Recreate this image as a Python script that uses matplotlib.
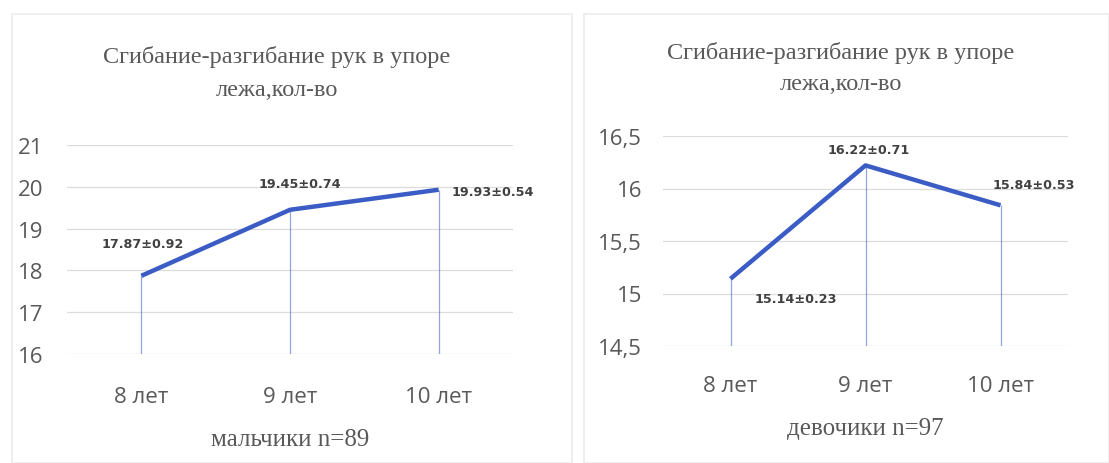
import matplotlib.pyplot as plt
from matplotlib.patches import Rectangle

ages = ['8 лет', '9 лет', '10 лет']

boys_mean = [17.87, 19.45, 19.93]
boys_sd = [0.92, 0.74, 0.54]
girls_mean = [15.14, 16.22, 15.84]
girls_sd = [0.23, 0.71, 0.53]

boys_ticks = [16, 17, 18, 19, 20, 21]
girls_ticks = [14.5, 15, 15.5, 16, 16.5]

title_lines = ['Сгибание-разгибание рук в упоре', 'лежа,кол-во']
line_color = '#3a5cc4'
grey = '#595959'

fig = plt.figure(figsize=(11.09, 4.64), dpi=100)

# light frames of the two chart panels
for x0, w in [(12, 560), (584, 525)]:
    fig.patches.append(Rectangle((x0 / 1109, 0), w / 1109, 1 - 15 / 464,
                                 transform=fig.transFigure, fill=False,
                                 edgecolor='#ececec', lw=1.2))


def panel(rect, means, sds, ticks, tick_fmt, xlabel, offsets, title_x,
          title_y, ypad, xpad):
    ax = fig.add_axes(rect)
    x = range(len(ages))
    ax.set_xlim(-0.5, len(ages) - 0.5)
    ax.set_ylim(ticks[0], ticks[-1])
    ax.set_yticks(ticks)
    ax.set_yticklabels([tick_fmt(t) for t in ticks])
    ax.set_xticks(list(x))
    ax.set_xticklabels(ages)
    ax.grid(axis='y', color='#dcdcdc', lw=0.9)
    ax.set_axisbelow(True)
    for s in ax.spines.values():
        s.set_visible(False)
    ax.tick_params(length=0, labelsize=16, labelcolor=grey)
    ax.tick_params(axis='y', pad=ypad)
    ax.tick_params(axis='x', pad=xpad)
    for lab in ax.get_xticklabels() + ax.get_yticklabels():
        lab.set_family('Open Sans')

    # drop lines from each value down to the axis floor
    ax.vlines(list(x), ticks[0], means, color=line_color, lw=0.9, alpha=0.55)
    ax.plot(list(x), means, color=line_color, lw=3.2, solid_capstyle='butt')

    for i, (m, s) in enumerate(zip(means, sds)):
        dx, dy, ha = offsets[i]
        ax.annotate(f'{m:.2f}±{s:.2f}', (i, m), xytext=(dx, dy),
                    textcoords='offset pixels', ha=ha, va='center',
                    fontsize=9.2, fontweight='bold', color='#404040',
                    family='DejaVu Sans')

    ax.set_xlabel(xlabel, family='Liberation Serif', fontsize=18,
                  color=grey, labelpad=15)
    for line, ty in zip(title_lines, title_y):
        fig.text(title_x, 1 - ty / 464, line, ha='center', va='center',
                 family='Liberation Serif', fontsize=17.5, color=grey)
    return ax


panel([67 / 1109, 1 - 355 / 464, 446 / 1109, 209 / 464],
      boys_mean, boys_sd, boys_ticks, lambda t: f'{t:d}',
      'мальчики n=89',
      [(1, 32, 'center'), (10, 26, 'center'), (13, -2, 'left')],
      277 / 1109, [57, 90], 17, 23)

panel([663 / 1109, 1 - 347 / 464, 405 / 1109, 210 / 464],
      girls_mean, girls_sd, girls_ticks,
      lambda t: f'{t:g}'.replace('.', ','),
      'девочики n=97',
      [(65, -20, 'center'), (3, 16, 'center'), (33, 21, 'center')],
      841 / 1109, [53, 85], 15, 21)

fig.savefig('out.png', dpi=100)
